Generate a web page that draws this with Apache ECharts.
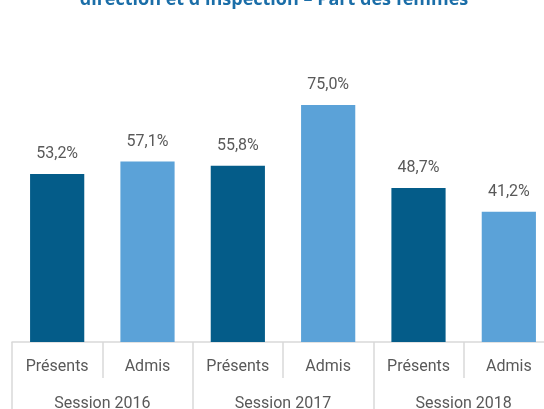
<!DOCTYPE html>
<html>
<head>
<meta charset="utf-8">
<script src="https://cdn.jsdelivr.net/npm/echarts@6/dist/echarts.min.js"></script>
<style>
  html, body { margin: 0; padding: 0; background: #fff; }
  #wrap { width: 544px; height: 409px; overflow: hidden; position: relative; }
  #chart { width: 560px; height: 409px; position: absolute; left: 0; top: 0; }
</style>
</head>
<body>
<div id="wrap"><div id="chart"></div></div>
<script>
// 数据
const categories = ['Présents', 'Admis', 'Présents', 'Admis', 'Présents', 'Admis']
const sessions = ['Session 2016', 'Session 2017', 'Session 2018']
const values = [53.2, 57.1, 55.8, 75.0, 48.7, 41.2]
const titleText = "direction et d'inspection – Part des femmes"

const DARK = '#045c89'
const LIGHT = '#5ba2d8'
const GRID_LINE = '#d9d9d9'
const TEXT = '#595959'
const FONT = 'Roboto, sans-serif'

// 图表容器比可视区域略宽，右侧会被裁掉，和原图一致
const chart = echarts.init(document.getElementById('chart'))

const option = {
  animation: false,
  title: {
    text: titleText,
    left: 269,
    textAlign: 'center',
    top: -14,
    textStyle: {
      color: '#1b6ea8',
      fontSize: 18,
      fontWeight: 'bold',
      fontFamily: 'Open Sans, sans-serif'
    }
  },
  grid: {
    left: 12,
    right: 6,
    top: 26,
    bottom: 67,
    outerBoundsMode: 'none'
  },
  xAxis: [
    {
      type: 'category',
      data: categories,
      position: 'bottom',
      axisLine: { show: true, lineStyle: { color: GRID_LINE, width: 1.5 } },
      axisTick: { show: true, length: 36, lineStyle: { color: GRID_LINE, width: 1.5 } },
      axisLabel: { color: TEXT, fontSize: 16, fontFamily: FONT, margin: 17 }
    },
    {
      type: 'category',
      data: sessions,
      position: 'bottom',
      axisLine: { show: false },
      axisTick: { show: true, length: 80, lineStyle: { color: GRID_LINE, width: 1.5 } },
      axisLabel: { color: TEXT, fontSize: 16, fontFamily: FONT, margin: 54 }
    }
  ],
  yAxis: {
    type: 'value',
    min: 0,
    max: 100,
    show: false,
    splitLine: { show: false }
  },
  series: [
    {
      type: 'bar',
      xAxisIndex: 0,
      data: values.map((v, i) => ({
        value: v,
        itemStyle: { color: i % 2 === 0 ? DARK : LIGHT }
      })),
      barCategoryGap: '40%',
      label: {
        show: true,
        position: 'top',
        distance: 12,
        color: TEXT,
        fontSize: 16,
        fontFamily: FONT,
        formatter: p => p.value.toFixed(1).replace('.', ',') + '%'
      }
    }
  ]
}

chart.setOption(option)
</script>
</body>
</html>
